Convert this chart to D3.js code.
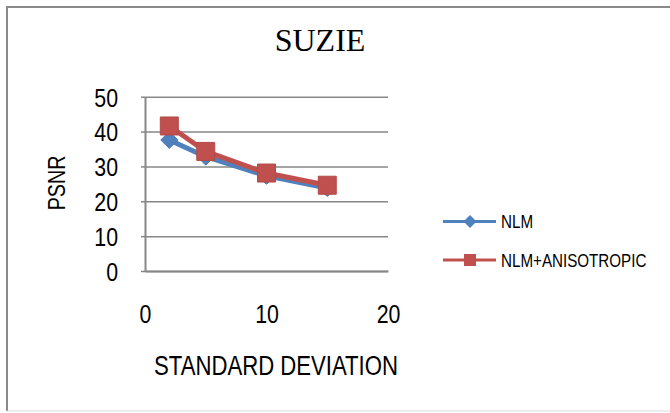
<!DOCTYPE html>
<html>
<head>
<meta charset="utf-8">
<script src="https://cdn.jsdelivr.net/npm/d3@7"></script>
<style>
  body { margin: 0; background: #fff; }
  text { font-family: "Liberation Sans", Arial, sans-serif; fill: #000; }
</style>
</head>
<body>
<div id="chart"></div>
<script>
// chart data
var stdDev = [2, 5, 10, 15];
var nlm = [37.6, 32.8, 27.3, 23.8];
var nlmAniso = [41.6, 34.3, 28.1, 24.6];
var seriesNames = ["NLM", "NLM+ANISOTROPIC"];
var yTicks = [0, 10, 20, 30, 40, 50];
var xTicks = [0, 10, 20];

var width = 670, height = 413;
var plot = { left: 145, right: 388, top: 96.7, bottom: 271 };

var svg = d3.select("#chart").append("svg")
    .attr("width", width)
    .attr("height", height);

// squeeze text horizontally to look like a narrow face
function narrow(sel) {
    sel.each(function() {
        var w = this.getComputedTextLength();
        d3.select(this).attr("textLength", w * 0.82).attr("lengthAdjust", "spacingAndGlyphs");
    });
}

// outer frame
svg.append("line").attr("x1", 7).attr("x2", 7).attr("y1", 6).attr("y2", 411)
    .style("stroke", "#8a8a8a").style("stroke-width", 2);
svg.append("line").attr("x1", 6).attr("x2", width).attr("y1", 7).attr("y2", 7)
    .style("stroke", "#8a8a8a").style("stroke-width", 2);
svg.append("line").attr("x1", 7).attr("x2", width).attr("y1", 411).attr("y2", 411)
    .style("stroke", "#d9d9d9").style("stroke-width", 1);

var x = d3.scaleLinear().domain([0, 20]).range([plot.left, plot.right]);
var y = d3.scaleLinear().domain([0, 50]).range([plot.bottom, plot.top]);

// gridlines
svg.append("g")
    .attr("transform", "translate(" + plot.left + ",0)")
    .call(d3.axisLeft(y).tickValues(yTicks).tickSize(-(plot.right - plot.left)).tickFormat(""))
    .call(function(g) {
        g.select(".domain").remove();
        g.selectAll("line").style("stroke", "#878787").style("stroke-width", 1.5);
    });

// y axis
var yAxis = svg.append("g")
    .attr("transform", "translate(" + plot.left + ",0)")
    .call(d3.axisLeft(y).tickValues(yTicks).tickSize(4).tickSizeOuter(0));
yAxis.select(".domain").style("stroke", "#878787").style("stroke-width", 2);
yAxis.selectAll("line").style("stroke", "#878787").style("stroke-width", 1.5);
yAxis.selectAll("text")
    .attr("x", -27).attr("dy", "0.36em")
    .style("font-size", "26px").style("font-family", null)
    .call(narrow);

// x axis
var xAxis = svg.append("g")
    .attr("transform", "translate(0," + plot.bottom + ")")
    .call(d3.axisBottom(x).tickValues(xTicks).tickSize(0).tickSizeOuter(0));
xAxis.select(".domain").style("stroke", "#878787").style("stroke-width", 2);
xAxis.selectAll("text")
    .attr("y", 43).attr("dy", "0.36em")
    .style("font-size", "26px").style("font-family", null)
    .call(narrow);
svg.selectAll(".tick text").attr("fill", "#000");

// titles
svg.append("text")
    .attr("x", 320).attr("y", 40).attr("dy", "0.35em")
    .attr("text-anchor", "middle")
    .style("font-family", "'Liberation Serif', 'Times New Roman', serif")
    .style("font-size", "32px")
    .text("SUZIE");

svg.append("text")
    .attr("x", 276).attr("y", 365).attr("dy", "0.36em")
    .attr("text-anchor", "middle")
    .style("font-size", "27px")
    .text("STANDARD DEVIATION")
    .call(narrow);

svg.append("text")
    .attr("transform", "translate(56,183) rotate(-90)")
    .attr("dy", "0.36em")
    .attr("text-anchor", "middle")
    .style("font-size", "24px")
    .text("PSNR")
    .call(narrow);

// series
var diamond = function(r) { return "M0," + (-r) + "L" + r + ",0L0," + r + "L" + (-r) + ",0Z"; };
var square = function(r) { return "M" + (-r) + "," + (-r) + "h" + (2 * r) + "v" + (2 * r) + "h" + (-2 * r) + "Z"; };

var series = [
    { name: seriesNames[0], values: nlm, color: "#4F81BD", shape: diamond, size: 8.5, legendSize: 6.5 },
    { name: seriesNames[1], values: nlmAniso, color: "#C0504D", shape: square, size: 9, legendSize: 6 }
];

var line = d3.line()
    .x(function(d) { return x(d[0]); })
    .y(function(d) { return y(d[1]); });

series.forEach(function(s, k) {
    var pts = stdDev.map(function(v, i) { return [v, s.values[i]]; });
    svg.append("path")
        .datum(pts)
        .attr("d", line)
        .attr("fill", "none")
        .style("stroke", s.color)
        .style("stroke-width", 5)
        .style("stroke-linejoin", "round");
    svg.selectAll(".marker-" + k)
        .data(pts)
        .enter().append("path")
        .attr("class", "marker-" + k)
        .attr("transform", function(d) { return "translate(" + x(d[0]) + "," + y(d[1]) + ")"; })
        .attr("d", s.shape(s.size))
        .style("fill", s.color)
        .style("stroke", d3.color(s.color).darker(0.2))
        .style("stroke-width", 1);
});

// legend
var legend = svg.append("g").attr("class", "legend");
var legendY = [221.5, 260];
series.forEach(function(s, i) {
    var g = legend.append("g").attr("transform", "translate(0," + legendY[i] + ")");
    g.append("line").attr("x1", 443).attr("x2", 496)
        .style("stroke", s.color).style("stroke-width", 3);
    g.append("path")
        .attr("transform", "translate(470,0)")
        .attr("d", s.shape(s.legendSize))
        .style("fill", s.color);
    g.append("text")
        .attr("x", 501).attr("dy", "0.36em")
        .style("font-size", "18.5px")
        .text(s.name)
        .call(narrow);
});
</script>
</body>
</html>
